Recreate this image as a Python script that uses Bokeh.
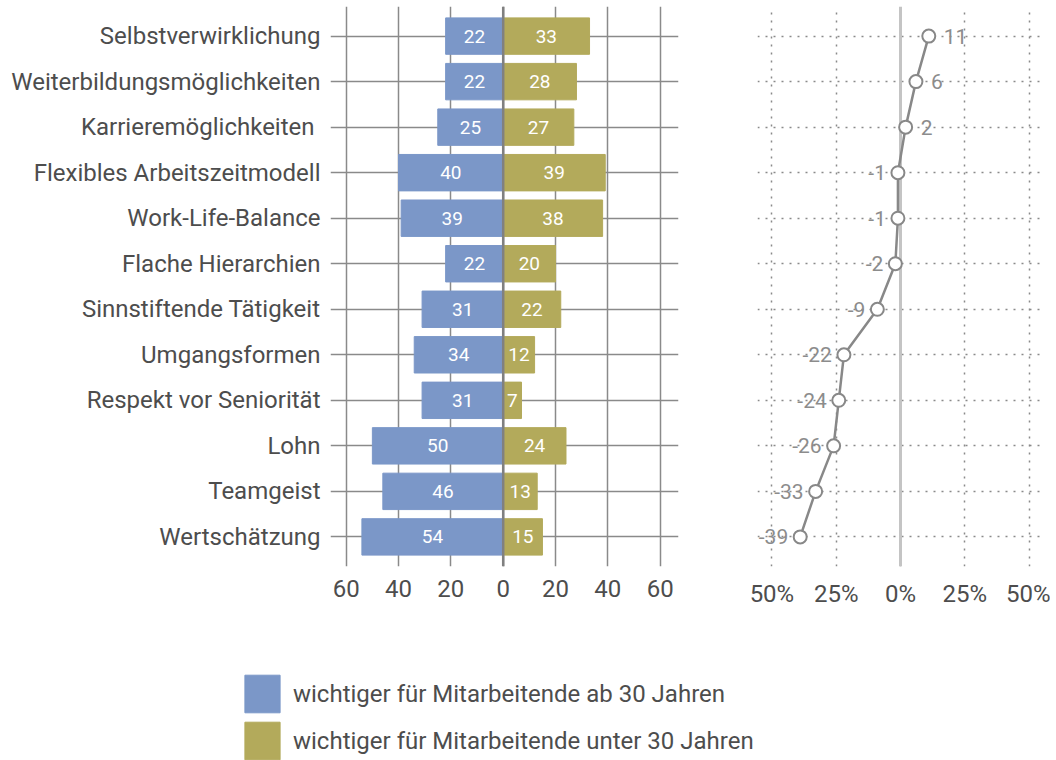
from bokeh.plotting import figure
from bokeh.layouts import column, row
from bokeh.models import (ColumnDataSource, FactorRange, FixedTicker, Span, Legend, LegendItem, Range1d)
from bokeh.core.properties import value
from bokeh.embed import file_html
from bokeh.resources import INLINE

categories = ["Selbstverwirklichung", "Weiterbildungsmöglichkeiten", "Karrieremöglichkeiten ",
              "Flexibles Arbeitszeitmodell", "Work-Life-Balance", "Flache Hierarchien",
              "Sinnstiftende Tätigkeit", "Umgangsformen", "Respekt vor Seniorität",
              "Lohn", "Teamgeist", "Wertschätzung"]
ab30 = [22, 22, 25, 40, 39, 22, 31, 34, 31, 50, 46, 54]
unter30 = [33, 28, 27, 39, 38, 20, 22, 12, 7, 24, 13, 15]
diff = [11, 6, 2, -1, -1, -2, -9, -22, -24, -26, -33, -39]
bar_ticks = [-60, -40, -20, 0, 20, 40, 60]
bar_tick_labels = ["60", "40", "20", "0", "20", "40", "60"]
pct_ticks = [-50, -25, 0, 25, 50]
pct_tick_labels = ["50%", "25%", "0%", "25%", "50%"]
legend_labels = ["wichtiger für Mitarbeitende ab 30 Jahren",
                 "wichtiger für Mitarbeitende unter 30 Jahren"]

BLUE = "#7B97C8"
OLIVE = "#B3AA5B"
FONT = "Roboto"
GRID = "#8a8a8a"
TEXT = "#4d4d4d"

y_range = FactorRange(factors=list(reversed(categories)), range_padding=0.15,
                      range_padding_units="absolute")

src = ColumnDataSource(dict(
    cat=categories,
    left=[-v for v in ab30],
    right=unter30,
    lmid=[-v / 2 for v in ab30],
    rmid=[v / 2 for v in unter30],
    ltxt=[str(v) for v in ab30],
    rtxt=[str(v) for v in unter30],
))

p1 = figure(width=700, height=610, y_range=y_range, x_range=Range1d(-66, 67),
            output_backend="svg", toolbar_location=None,
            min_border_left=330, min_border_right=22, min_border_top=6, min_border_bottom=44)
p1.outline_line_color = None
p1.hbar(y="cat", left="left", right=0, height=0.8, color=BLUE, source=src)
p1.hbar(y="cat", left=0, right="right", height=0.8, color=OLIVE, source=src)
p1.text(x="lmid", y="cat", text="ltxt", source=src, text_color="white", text_font=value(FONT),
        text_font_size="19px", text_align="center", text_baseline="middle")
p1.text(x="rmid", y="cat", text="rtxt", source=src, text_color="white", text_font=value(FONT),
        text_font_size="19px", text_align="center", text_baseline="middle")
p1.add_layout(Span(location=0, dimension="height", line_color="#808080", line_width=2.5))

p1.xaxis.ticker = FixedTicker(ticks=bar_ticks)
p1.xaxis.major_label_overrides = dict(zip(bar_ticks, bar_tick_labels))
for ax in (p1.xaxis, p1.yaxis):
    ax.axis_line_color = None
    ax.major_tick_line_color = None
    ax.minor_tick_line_color = None
    ax.major_label_text_font = FONT
    ax.major_label_text_font_size = "24px"
    ax.major_label_text_color = TEXT
p1.xaxis.major_label_standoff = 7
p1.yaxis.major_label_standoff = 4
p1.xgrid.grid_line_color = GRID
p1.xgrid.grid_line_width = 1.5
p1.ygrid.grid_line_color = GRID
p1.ygrid.grid_line_width = 1.5

dsrc = ColumnDataSource(dict(
    cat=categories,
    d=diff,
    txt=[str(v) for v in diff],
    align=["left" if v > 0 else "right" for v in diff],
    off=[15 if v > 0 else -12 for v in diff],
))

p2 = figure(width=350, height=610, y_range=y_range, x_range=Range1d(-55.6, 55.6),
            output_backend="svg", toolbar_location=None,
            min_border_left=57, min_border_right=7, min_border_top=6, min_border_bottom=44)
p2.outline_line_color = None
p2.yaxis.visible = False
p2.add_layout(Span(location=0, dimension="height", line_color="#c4c4c4", line_width=3, level="underlay"))
p2.line(x="d", y="cat", source=dsrc, line_color="#888888", line_width=2.5)
p2.scatter(x="d", y="cat", source=dsrc, size=13, fill_color="white", line_color="#888888", line_width=2)
p2.text(x="d", y="cat", text="txt", source=dsrc, x_offset="off", text_align="align",
        text_baseline="middle", text_color="#8c8c8c", text_font=value(FONT), text_font_size="21px")
p2.xaxis.ticker = FixedTicker(ticks=pct_ticks)
p2.xaxis.major_label_overrides = dict(zip(pct_ticks, pct_tick_labels))
p2.xaxis.axis_line_color = None
p2.xaxis.major_tick_line_color = None
p2.xaxis.minor_tick_line_color = None
p2.xaxis.major_label_text_font = FONT
p2.xaxis.major_label_text_font_size = "24px"
p2.xaxis.major_label_text_color = TEXT
p2.xaxis.major_label_standoff = 7
for g in (p2.xgrid, p2.ygrid):
    g.grid_line_color = "#8a8a8a"
    g.grid_line_width = 1.5
    g.grid_line_dash = "2 6"

p3 = figure(width=1040, height=150, x_range=Range1d(0, 1), y_range=Range1d(0, 1),
            x_axis_type=None, y_axis_type=None, output_backend="svg", toolbar_location=None,
            min_border_left=0, min_border_right=0, min_border_top=0, min_border_bottom=0)
p3.outline_line_color = None
p3.xgrid.visible = False
p3.ygrid.visible = False
offscreen = ColumnDataSource(dict(x=[-10], top=[-10]))
r_blue = p3.vbar(x="x", top="top", width=0.1, color=BLUE, source=offscreen)
r_olive = p3.vbar(x="x", top="top", width=0.1, color=OLIVE, source=offscreen)
legend = Legend(items=[LegendItem(label=legend_labels[0], renderers=[r_blue]),
                       LegendItem(label=legend_labels[1], renderers=[r_olive])],
                location=(240, -4), orientation="vertical", glyph_width=44, glyph_height=47,
                label_height=47, spacing=-5, label_standoff=9, padding=0, margin=0,
                border_line_color=None, background_fill_alpha=0,
                label_text_font=FONT, label_text_font_size="24px", label_text_color=TEXT)
p3.add_layout(legend, "center")

layout = column(row(p1, p2), p3)
open("out.html", "w").write(file_html(layout, INLINE))
